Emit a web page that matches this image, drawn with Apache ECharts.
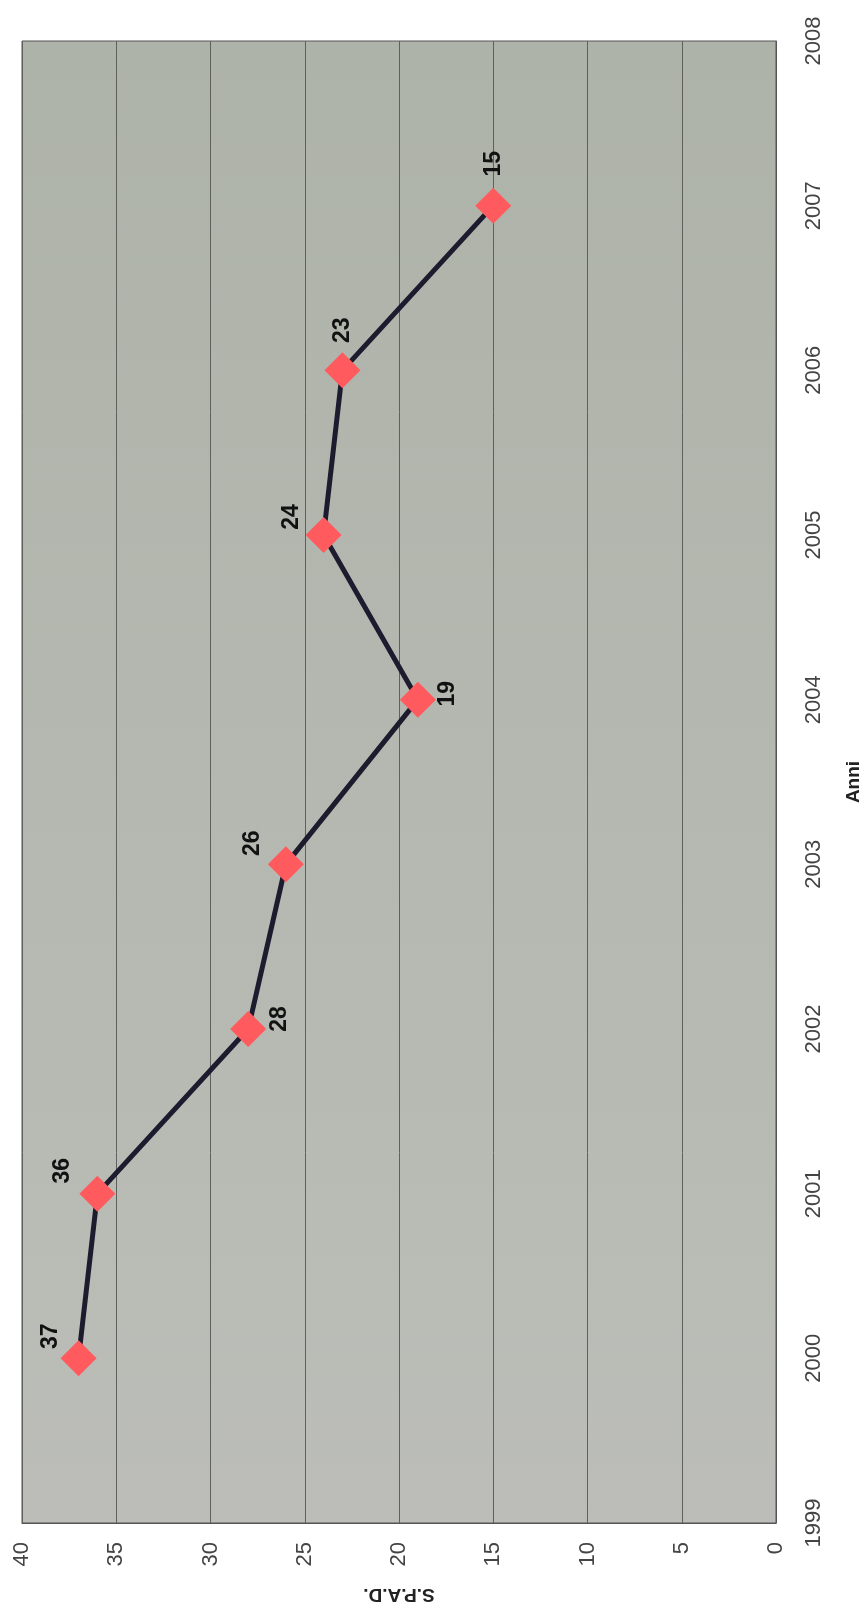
<!DOCTYPE html>
<html>
<head>
<meta charset="utf-8">
<title>S.P.A.D. per anno</title>
<script src="https://cdn.jsdelivr.net/npm/echarts@6/dist/echarts.min.js"></script>
<style>
  html, body { margin: 0; padding: 0; background: #fff; }
  #chart { width: 866px; height: 1608px; }
</style>
</head>
<body>
<div id="chart"></div>
<script>
// dati (ruotato di 90 gradi)
var anni = [2000, 2001, 2002, 2003, 2004, 2005, 2006, 2007];
var spad = [37, 36, 28, 26, 19, 24, 23, 15];

// spostamento delle etichette sullo schermo [dx, dy], in pixel
var labelOffsets = [[-28, -22], [-35, -23], [31, -10], [-33, -21], [30, -6], [-32, -18], [0, -40], [0, -42]];

var chart = echarts.init(document.getElementById('chart'));

// l'etichetta e' ruotata di 90 gradi, quindi l'offset va espresso nel suo riferimento
var punti = anni.map(function (a, i) {
    var o = labelOffsets[i];
    return {
        value: [spad[i], a],
        label: { offset: [-o[1], o[0]] }
    };
});

chart.setOption({
    backgroundColor: '#ffffff',
    animation: false,
    grid: {
        left: 22, right: 90, top: 41, bottom: 85,
        outerBoundsMode: 'none',
        containLabel: false,
        show: true,
        backgroundColor: new echarts.graphic.LinearGradient(0, 0, 0, 1, [
            { offset: 0, color: '#aeb3aa' },
            { offset: 0.5, color: '#b4b8b0' },
            { offset: 1, color: '#bcbdb8' }
        ]),
        borderColor: '#555',
        borderWidth: 1
    },
    xAxis: {
        type: 'value',
        min: 0, max: 40, interval: 5,
        inverse: true,
        position: 'bottom',
        name: 'S.P.A.D.',
        nameLocation: 'middle',
        nameGap: 62,
        nameRotate: 180,
        nameTextStyle: { fontFamily: 'Liberation Sans, Arial', fontSize: 19, fontWeight: 'bold', color: '#222' },
        axisLine: { show: true, lineStyle: { color: '#555', width: 1 } },
        axisTick: { show: false },
        axisLabel: { rotate: 90, margin: 19, fontFamily: 'Liberation Sans, Arial', fontSize: 22, color: '#444' },
        splitLine: { show: true, lineStyle: { color: '#5e605c', width: 1 } }
    },
    yAxis: {
        type: 'value',
        min: 1999, max: 2008, interval: 1,
        position: 'right',
        name: 'Anni',
        nameLocation: 'middle',
        nameGap: 68,
        nameRotate: 90,
        nameTextStyle: { fontFamily: 'Liberation Sans, Arial', fontSize: 19, fontWeight: 'bold', color: '#222' },
        axisLine: { show: true, lineStyle: { color: '#555', width: 1 } },
        axisTick: { show: false },
        axisLabel: {
            rotate: 90, margin: 27, fontFamily: 'Liberation Sans, Arial', fontSize: 22, color: '#444',
            formatter: function (v) { return String(v); }
        },
        splitLine: { show: false }
    },
    series: [{
        type: 'line',
        data: punti,
        symbol: 'diamond',
        symbolSize: 36,
        itemStyle: { color: '#ff5b5e' },
        lineStyle: { color: '#1c1c2e', width: 5 },
        z: 3,
        label: {
            show: true,
            position: 'inside',
            rotate: 90,
            fontFamily: 'Liberation Sans, Arial',
            fontSize: 23,
            fontWeight: 'bold',
            color: '#111',
            formatter: function (p) { return p.value[0]; }
        }
    }]
});
</script>
</body>
</html>
